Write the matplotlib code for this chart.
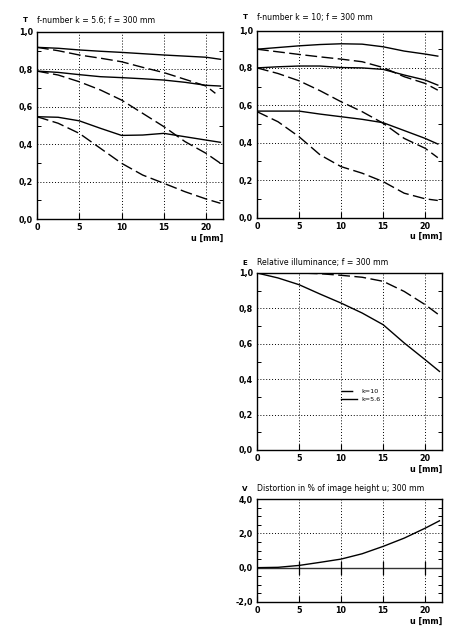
import matplotlib
matplotlib.use("Agg")
import matplotlib.pyplot as plt
from matplotlib.ticker import MultipleLocator

plt.rcParams['font.family'] = ['DejaVu Sans']

# ---------------- data ----------------
u = [0, 2.5, 5, 7.5, 10, 12.5, 15, 17.5, 20, 21.7]
u_short = [0, 2.5, 5, 7.5, 10, 12.5, 15, 17.5, 20, 21.1]
u_k10 = [0, 2.5, 5, 7.5, 10, 12.5, 15, 17.5, 20, 21.5]

# MTF, k = 5.6
k56_solid_1 = [0.918, 0.913, 0.904, 0.897, 0.891, 0.884, 0.877, 0.871, 0.865, 0.854]
k56_dash_1 = [0.918, 0.900, 0.877, 0.860, 0.841, 0.811, 0.783, 0.747, 0.711, 0.672]
k56_solid_2 = [0.791, 0.784, 0.772, 0.761, 0.756, 0.750, 0.743, 0.731, 0.715, 0.711]
k56_dash_2 = [0.791, 0.770, 0.734, 0.690, 0.636, 0.565, 0.494, 0.414, 0.351, 0.298]
k56_solid_3 = [0.547, 0.544, 0.525, 0.485, 0.447, 0.449, 0.458, 0.440, 0.422, 0.410]
k56_dash_3 = [0.547, 0.512, 0.458, 0.378, 0.298, 0.235, 0.191, 0.146, 0.107, 0.084]

# MTF, k = 10
k10_solid_1 = [0.900, 0.909, 0.918, 0.925, 0.929, 0.927, 0.913, 0.890, 0.874, 0.863]
k10_dash_1 = [0.900, 0.886, 0.872, 0.859, 0.847, 0.833, 0.802, 0.753, 0.717, 0.681]
k10_solid_2 = [0.800, 0.806, 0.810, 0.810, 0.802, 0.800, 0.792, 0.762, 0.735, 0.708]
k10_dash_2 = [0.800, 0.770, 0.731, 0.678, 0.619, 0.566, 0.504, 0.423, 0.370, 0.320]
k10_solid_3 = [0.569, 0.569, 0.569, 0.553, 0.539, 0.525, 0.507, 0.465, 0.423, 0.393]
k10_dash_3 = [0.566, 0.512, 0.432, 0.335, 0.272, 0.237, 0.192, 0.130, 0.100, 0.091]

# relative illuminance
E_k10 = [1.0, 1.0, 1.0, 0.996, 0.987, 0.976, 0.953, 0.896, 0.821, 0.761]
E_k56 = [1.0, 0.972, 0.934, 0.881, 0.830, 0.774, 0.708, 0.605, 0.510, 0.444]

# distortion (%)
V = [0.0, 0.02, 0.13, 0.31, 0.50, 0.81, 1.24, 1.72, 2.30, 2.73]

T_ticks = [0.0, 0.2, 0.4, 0.6, 0.8, 1.0]
T_labels = ['0,0', '0,2', '0,4', '0,6', '0,8', '1,0']
V_ticks = [-2.0, 0.0, 2.0, 4.0]
V_labels = ['-2,0', '0,0', '2,0', '4,0']
u_ticks = [0, 5, 10, 15, 20]

titles = ['f-number k = 5.6; f = 300 mm', 'f-number k = 10; f = 300 mm',
          'Relative illuminance; f = 300 mm', 'Distortion in % of image height u; 300 mm']
letters = ['T', 'T', 'E', 'V']
legend_labels = ['k=10', 'k=5.6']

# ---------------- figure ----------------
fig = plt.figure(figsize=(4.59, 6.39), dpi=100)
W, H = 459, 639


def add_axes(l, t, r, b):
    return fig.add_axes([l / W, 1 - b / H, (r - l) / W, (b - t) / H])


ax1 = add_axes(37, 32, 223, 219)
ax2 = add_axes(257, 30.5, 442, 217.5)
ax3 = add_axes(257, 273, 442, 450)
ax4 = add_axes(257, 499, 442, 602)

dash = dict(color='black', lw=1.0, dashes=(8.5, 3.2))
solid = dict(color='black', lw=1.0)
fs_tick = 5.8
fs_title = 5.6


def style(ax, yticks, ylabels, ylim, yminor, title, letter, grid_y, toff):
    ax.set_xlim(0, 22)
    ax.set_ylim(*ylim)
    ax.set_xticks(u_ticks)
    ax.set_xticklabels([str(t) for t in u_ticks], fontsize=fs_tick, fontweight='bold')
    ax.set_yticks(yticks)
    ax.set_yticklabels(ylabels, fontsize=fs_tick, fontweight='bold')
    ax.yaxis.set_minor_locator(MultipleLocator(yminor))
    ax.tick_params(axis='x', which='major', direction='in', length=4, width=0.8, pad=3)
    ax.tick_params(axis='y', which='major', direction='in', length=0, pad=3)
    ax.tick_params(axis='y', which='minor', direction='in', length=3, width=0.7,
                   left=True, right=True)
    for s in ax.spines.values():
        s.set_linewidth(1.0)
        s.set_color('black')
    for x in [5, 10, 15, 20]:
        ax.axvline(x, color='black', lw=0.7, ls=(0, (1, 2)), zorder=1)
    for y in grid_y:
        ax.axhline(y, color='black', lw=0.7, ls=(0, (1, 2)), zorder=1)
    ax.annotate(letter, xy=(0, 1), xycoords='axes fraction', xytext=(-8.5, toff),
                textcoords='offset points', fontsize=fs_title - 0.5,
                fontweight='bold', ha='center', va='center')
    ax.annotate(title, xy=(0, 1), xycoords='axes fraction', xytext=(0, toff),
                textcoords='offset points', fontsize=fs_title,
                ha='left', va='center')
    ax.annotate('u [mm]', xy=(1, 0), xycoords='axes fraction', xytext=(0, -10.5),
                textcoords='offset points', fontsize=fs_tick, fontweight='bold',
                ha='right', va='top')


style(ax1, T_ticks, T_labels, (0, 1), 0.1, titles[0], letters[0], [0.2, 0.4, 0.6, 0.8], 8.5)
style(ax2, T_ticks, T_labels, (0, 1), 0.1, titles[1], letters[1], [0.2, 0.4, 0.6, 0.8], 9.5)
style(ax3, T_ticks, T_labels, (0, 1), 0.1, titles[2], letters[2], [0.2, 0.4, 0.6, 0.8], 7.5)
style(ax4, V_ticks, V_labels, (-2, 4), 0.5, titles[3], letters[3], [2.0], 7.5)

for xs, ys, st in [(u, k56_solid_1, solid), (u_short, k56_dash_1, dash),
                   (u, k56_solid_2, solid), (u, k56_dash_2, dash),
                   (u, k56_solid_3, solid), (u, k56_dash_3, dash)]:
    ax1.plot(xs, ys, **st, zorder=3)
for ys, st in [(k10_solid_1, solid), (k10_dash_1, dash), (k10_solid_2, solid),
               (k10_dash_2, dash), (k10_solid_3, solid), (k10_dash_3, dash)]:
    ax2.plot(u_k10, ys, **st, zorder=3)

ax3.plot(u, E_k10, label=legend_labels[0], **dash, zorder=3)
ax3.plot(u, E_k56, label=legend_labels[1], **solid, zorder=3)
ax3.legend(loc='upper left', bbox_to_anchor=(0.455, 0.345), frameon=False,
           fontsize=4.6, handlelength=2.4, handletextpad=0.7, labelspacing=0.35,
           borderaxespad=0, borderpad=0)

ax4.axhline(0, color='#333333', lw=1.0, zorder=2)
for x in [5, 10, 15, 20]:
    ax4.plot([x, x], [-0.35, 0.35], color='black', lw=0.9, zorder=2)
ax4.plot(u, V, **solid, zorder=3)

fig.savefig('out.png', dpi=100, facecolor='white')
